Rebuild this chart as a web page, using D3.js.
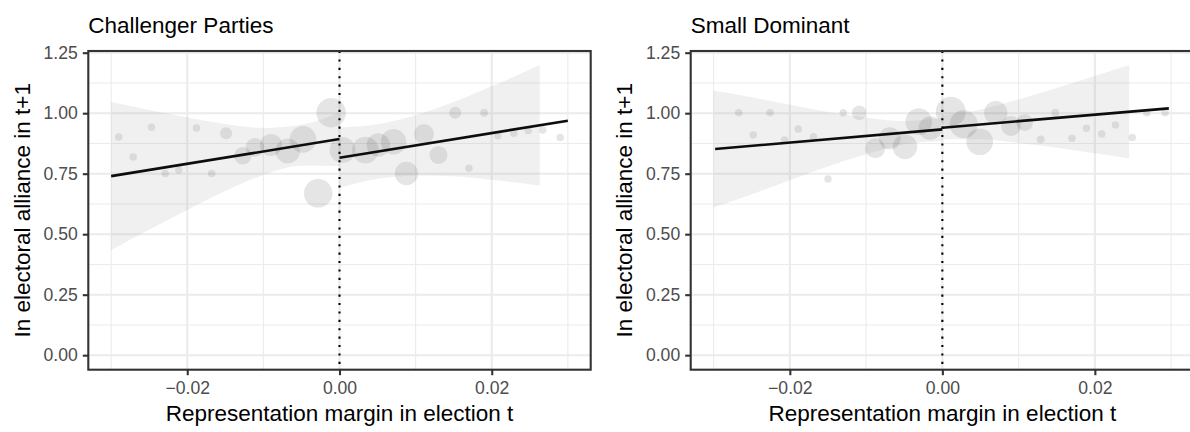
<!DOCTYPE html>
<html>
<head>
<meta charset="utf-8">
<script src="https://cdn.jsdelivr.net/npm/d3@7"></script>
<style>
  body { margin: 0; background: #fff; }
  text { font-family: "Liberation Sans", Arial, sans-serif; }
</style>
</head>
<body>
<div id="chart"></div>
<script>
// ticks
const xMajor = [-0.02, 0, 0.02]
const xMinor = [-0.03, -0.01, 0.01, 0.03]
const yMajor = [0, 0.25, 0.5, 0.75, 1, 1.25]
const yMinor = [0.125, 0.375, 0.625, 0.875, 1.125]

const titles = ['Challenger Parties', 'Small Dominant']
const xLabel = 'Representation margin in election t'
const yLabel = 'In electoral alliance in t+1'

// Challenger Parties: binned points [x, y, weight]
const challengerPoints = [
  [-0.0290, 0.902, 1], [-0.0271, 0.819, 1], [-0.0247, 0.942, 1], [-0.0229, 0.751, 1],
  [-0.0211, 0.765, 1], [-0.0188, 0.939, 1], [-0.0168, 0.751, 1], [-0.0149, 0.917, 2.6],
  [-0.0127, 0.824, 5.4], [-0.0111, 0.859, 6.2], [-0.0090, 0.869, 8.6], [-0.0068, 0.844, 10.8],
  [-0.0048, 0.892, 12.6], [-0.0011, 1.002, 15.4], [-0.0028, 0.669, 14.5], [0.0004, 0.848, 12],
  [0.0034, 0.848, 12.6], [0.0051, 0.869, 9.7], [0.0071, 0.882, 11.5], [0.0111, 0.914, 7.1],
  [0.0130, 0.827, 5.8], [0.0088, 0.751, 9.7], [0.0152, 1.002, 2.6], [0.0190, 1.002, 1.1],
  [0.0170, 0.772, 1], [0.0208, 0.907, 1], [0.0229, 0.917, 1], [0.0248, 0.928, 1],
  [0.0267, 0.931, 1], [0.0290, 0.900, 1]
]
// fitted lines [x, y] left and right of the cutoff
const challengerFitLeft = [[-0.03, 0.740], [0, 0.893]]
const challengerFitRight = [[0, 0.816], [0.03, 0.969]]
// confidence bands [x, low, high]
const challengerBandLeft = [
  [-0.030, 0.434, 1.046], [-0.025, 0.518, 1.013], [-0.020, 0.600, 0.982], [-0.015, 0.678, 0.955],
  [-0.010, 0.745, 0.939], [-0.005, 0.783, 0.952], [0, 0.782, 1.004]
]
const challengerBandRight = [
  [0, 0.692, 0.940], [0.005, 0.729, 0.954], [0.010, 0.743, 0.991], [0.015, 0.739, 1.046],
  [0.020, 0.725, 1.111], [0.0263, 0.701, 1.199]
]

// Small Dominant
const dominantPoints = [
  [-0.0267, 1.002, 1], [-0.0226, 1.002, 1], [-0.0248, 0.910, 1], [-0.0189, 0.935, 1],
  [-0.0169, 0.903, 1], [-0.0207, 0.889, 1], [-0.0150, 0.728, 1], [-0.0130, 1.002, 1],
  [-0.0109, 1.002, 3.8], [-0.0088, 0.855, 7.1], [-0.0069, 0.896, 8.6], [-0.0049, 0.861, 10.8],
  [-0.0031, 0.965, 12.6], [-0.0016, 0.938, 9.7], [0.0011, 1.006, 16], [0.0028, 0.954, 14],
  [0.0049, 0.882, 12.6], [0.0070, 1.002, 9.7], [0.0090, 0.947, 7.1], [0.0108, 0.961, 4.9],
  [0.0129, 0.892, 1.1], [0.0148, 1.002, 1.1], [0.0170, 0.896, 1], [0.0189, 0.938, 1],
  [0.0209, 0.914, 1], [0.0227, 0.951, 1], [0.0249, 0.900, 1], [0.0268, 1.002, 1],
  [0.0292, 1.002, 1]
]
const dominantFitLeft = [[-0.0298, 0.852], [0, 0.933]]
const dominantFitRight = [[0, 0.940], [0.0297, 1.020]]
const dominantBandLeft = [
  [-0.030, 0.610, 1.094], [-0.025, 0.665, 1.066], [-0.020, 0.723, 1.035], [-0.015, 0.780, 1.005],
  [-0.010, 0.830, 0.982], [-0.005, 0.872, 0.967], [0, 0.885, 0.981]
]
const dominantBandRight = [
  [0, 0.892, 0.988], [0.005, 0.892, 1.015], [0.010, 0.877, 1.057], [0.015, 0.857, 1.104],
  [0.020, 0.834, 1.154], [0.0245, 0.813, 1.199]
]

const width = 1190
const height = 432
const panelTop = 51
const panelBottom = 369.7

const svg = d3
  .select('#chart')
  .append('svg')
  .attr('width', width)
  .attr('height', height)

const rScale = d3.scaleSqrt().domain([0, 16]).range([0, 15])

const drawPanel = (id, left, right, title, points, fits, bands) => {
  const x = d3.scaleLinear().domain([-0.033, 0.033]).range([left, right])
  const y = d3.scaleLinear().domain([-0.06, 1.257]).range([panelBottom, panelTop])

  const g = svg.append('g')

  g.append('clipPath')
    .attr('id', id)
    .append('rect')
    .attr('x', left)
    .attr('y', panelTop)
    .attr('width', right - left)
    .attr('height', panelBottom - panelTop)

  const plot = g.append('g').attr('clip-path', `url(#${id})`)

  // grid
  plot.selectAll('.vminor').data(xMinor).enter().append('line')
    .attr('x1', d => x(d)).attr('x2', d => x(d)).attr('y1', panelTop).attr('y2', panelBottom)
    .attr('stroke', '#ebebeb').attr('stroke-width', 1.07)
  plot.selectAll('.hminor').data(yMinor).enter().append('line')
    .attr('x1', left).attr('x2', right).attr('y1', d => y(d)).attr('y2', d => y(d))
    .attr('stroke', '#ebebeb').attr('stroke-width', 1.07)
  plot.selectAll('.vmajor').data(xMajor).enter().append('line')
    .attr('x1', d => x(d)).attr('x2', d => x(d)).attr('y1', panelTop).attr('y2', panelBottom)
    .attr('stroke', '#ebebeb').attr('stroke-width', 2.1)
  plot.selectAll('.hmajor').data(yMajor).enter().append('line')
    .attr('x1', left).attr('x2', right).attr('y1', d => y(d)).attr('y2', d => y(d))
    .attr('stroke', '#ebebeb').attr('stroke-width', 2.1)

  // points
  plot.selectAll('.pt').data(points).enter().append('circle')
    .attr('cx', d => x(d[0]))
    .attr('cy', d => y(d[1]))
    .attr('r', d => rScale(d[2]))
    .attr('fill', '#000')
    .attr('fill-opacity', 0.1)

  // confidence bands
  const area = d3.area()
    .x(d => x(d[0]))
    .y0(d => y(d[1]))
    .y1(d => y(d[2]))
    .curve(d3.curveMonotoneX)
  bands.forEach(b => {
    plot.append('path').attr('d', area(b)).attr('fill', '#999').attr('fill-opacity', 0.15)
  })

  // fitted lines
  const line = d3.line().x(d => x(d[0])).y(d => y(d[1]))
  fits.forEach(f => {
    plot.append('path').attr('d', line(f)).attr('fill', 'none')
      .attr('stroke', '#0d0d0d').attr('stroke-width', 2.6)
  })

  // cutoff
  plot.append('line')
    .attr('x1', x(0)).attr('x2', x(0)).attr('y1', panelTop).attr('y2', panelBottom)
    .attr('stroke', '#000').attr('stroke-width', 2.1)
    .attr('stroke-dasharray', '2.1,6.3')

  // border
  g.append('rect')
    .attr('x', left).attr('y', panelTop)
    .attr('width', right - left).attr('height', panelBottom - panelTop)
    .attr('fill', 'none').attr('stroke', '#333').attr('stroke-width', 2.1)

  // axes
  const xAxis = g.append('g')
    .attr('transform', `translate(0,${panelBottom})`)
    .call(d3.axisBottom(x).tickValues(xMajor).tickFormat(d3.format('.2f')).tickSize(5.5).tickPadding(6))
  const yAxis = g.append('g')
    .attr('transform', `translate(${left},0)`)
    .call(d3.axisLeft(y).tickValues(yMajor).tickFormat(d3.format('.2f')).tickSize(5.5).tickPadding(5))
  ;[xAxis, yAxis].forEach(a => {
    a.select('.domain').remove()
    a.selectAll('.tick line').attr('stroke', '#333').attr('stroke-width', 2.1)
    a.selectAll('.tick text').attr('fill', '#4d4d4d').style('font-size', '17.6px')
      .style('font-family', '"Liberation Sans", Arial, sans-serif')
  })

  g.append('text')
    .attr('x', left).attr('y', 33)
    .style('font-size', '22.5px').attr('fill', '#000')
    .text(title)

  g.append('text')
    .attr('x', (left + right) / 2).attr('y', 421)
    .attr('text-anchor', 'middle')
    .style('font-size', '22.5px').attr('fill', '#000')
    .text(xLabel)

  g.append('text')
    .attr('transform', `translate(${left - 58.7},${(panelTop + panelBottom) / 2}) rotate(-90)`)
    .attr('text-anchor', 'middle')
    .style('font-size', '22.5px').attr('fill', '#000')
    .text(yLabel)
}

drawPanel('clipA', 88.3, 590.7, titles[0], challengerPoints,
  [challengerFitLeft, challengerFitRight], [challengerBandLeft, challengerBandRight])
drawPanel('clipB', 690.7, 1194, titles[1], dominantPoints,
  [dominantFitLeft, dominantFitRight], [dominantBandLeft, dominantBandRight])
</script>
</body>
</html>
